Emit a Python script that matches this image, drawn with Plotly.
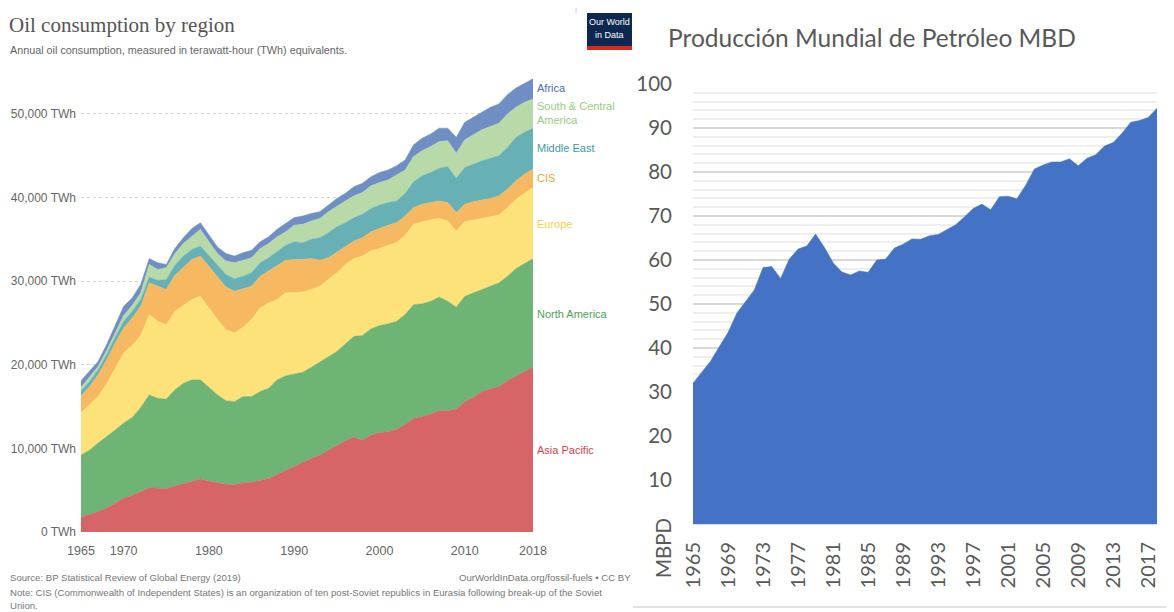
import plotly.graph_objects as go

W, H = 1174, 612
OFF = 8  # the page body adds 8px around the figure

years = list(range(1965, 2019))

# upper edge of each stacked band (TWh), bottom band first
top_asia_pacific = [1800, 2100, 2450, 2850, 3400, 4050, 4400, 4800, 5300, 5250,
                    5200, 5500, 5800, 6100, 6350, 6100, 5900, 5700, 5650, 5900,
                    5950, 6200, 6400, 6900, 7400, 7900, 8300, 8800, 9200, 9800,
                    10400, 10900, 11350, 11000, 11600, 11900, 12000, 12300, 12900, 13600,
                    13800, 14100, 14500, 14500, 14700, 15600, 16100, 16800, 17100, 17400,
                    18100, 18700, 19200, 19700]
top_north_america = [9220, 9800, 10650, 11400, 12200, 13050, 13700, 14900, 16400, 16000,
                     15900, 17000, 17800, 18200, 18200, 17300, 16400, 15700, 15600, 16200,
                     16200, 16800, 17200, 18200, 18700, 18900, 19100, 19700, 20300, 21000,
                     21600, 22500, 23400, 23500, 24300, 24700, 24900, 25200, 26000, 27200,
                     27300, 27600, 28100, 27600, 26900, 28200, 28600, 29000, 29400, 29800,
                     30600, 31500, 32100, 32700]
top_europe = [14250, 15200, 16200, 17700, 19600, 21400, 22300, 23500, 26000, 25200,
              24800, 26400, 27100, 27800, 28200, 26800, 25400, 24200, 23800, 24500,
              25400, 26800, 27400, 27800, 28600, 28600, 28700, 29000, 29400, 30200,
              31000, 32000, 32700, 33000, 33600, 33900, 34300, 34600, 35500, 36800,
              37100, 37300, 37500, 37200, 36000, 37100, 37300, 37500, 37700, 37900,
              38800, 39800, 40500, 41200]
top_cis = [16300, 17400, 18800, 20600, 22600, 24400, 25600, 27000, 29800, 29400,
           29000, 30700, 31700, 32600, 33000, 31800, 30500, 29300, 28800, 29100,
           29400, 30600, 31200, 31800, 32500, 32600, 32600, 32700, 32500, 32800,
           33500, 34200, 34800, 35200, 35900, 36300, 36700, 37000, 37800, 38800,
           39200, 39400, 39600, 39400, 38200, 39200, 39500, 39700, 39900, 40200,
           41000, 42000, 42800, 43400]
top_middle_east = [16900, 18000, 19400, 21200, 23300, 25200, 26400, 27800, 30500, 30100,
                   30200, 31900, 33000, 33800, 34200, 33100, 31900, 30800, 30300, 30600,
                   31000, 32200, 32800, 33600, 34300, 34700, 34600, 35000, 35200, 35800,
                   36500, 37000, 37600, 38000, 38700, 39100, 39400, 39600, 40500, 41900,
                   42600, 43000, 43500, 43700, 42300, 43600, 44000, 44400, 44700, 45000,
                   46000, 47200, 47800, 48300]
top_south_central_america = [17300, 18500, 19800, 21700, 23900, 25900, 27100, 28600, 32000, 31400,
                             31600, 33300, 34500, 35400, 36200, 34700, 33300, 32400, 32200, 32500,
                             32800, 33900, 34500, 35300, 35900, 36700, 36800, 37200, 37500, 38300,
                             39000, 39600, 40200, 40600, 41400, 41800, 42100, 42700, 43300, 44900,
                             45600, 46100, 46700, 46800, 45300, 46900, 47500, 48100, 48500, 48900,
                             50000, 50800, 51400, 51800]
top_africa = [18100, 19300, 20400, 22400, 24800, 27000, 28000, 29600, 32700, 32200,
              32000, 33900, 35200, 36300, 37000, 35500, 34100, 33300, 33000, 33400,
              33700, 34700, 35300, 36200, 36900, 37600, 37800, 38100, 38300, 39100,
              39900, 40500, 41300, 41700, 42500, 43000, 43300, 43800, 44500, 46300,
              47100, 47600, 48300, 48300, 47200, 49000, 49600, 50300, 50800, 51200,
              52300, 53100, 53700, 54200]

regions = ['Asia Pacific', 'North America', 'Europe', 'CIS', 'Middle East',
           'South & Central America', 'Africa']
tops = [top_asia_pacific, top_north_america, top_europe, top_cis, top_middle_east,
        top_south_central_america, top_africa]
fill_colors = ['#d76567', '#6db475', '#fde27a', '#f6b961', '#66b0b6', '#b8daa9', '#6f8ec3']
label_colors = ['#d8434b', '#4da45b', '#f5cf4d', '#f2a23a', '#3d9ca3', '#98cc84', '#4a6db3']

owid_ticks = [0, 10000, 20000, 30000, 40000, 50000]
owid_ticktext = ['0 TWh', '10,000 TWh', '20,000 TWh', '30,000 TWh', '40,000 TWh', '50,000 TWh']
owid_xticks = [1965, 1970, 1980, 1990, 2000, 2010, 2018]

# world oil production, million barrels per day
mbpd_years = list(range(1965, 2019))
mbpd = [32.0, 34.4, 37.0, 40.3, 43.5, 47.9, 50.5, 53.2, 58.3, 58.5,
        55.8, 60.2, 62.5, 63.2, 65.9, 62.9, 59.4, 57.3, 56.6, 57.5,
        57.2, 60.0, 60.2, 62.7, 63.6, 64.8, 64.7, 65.5, 65.8, 67.0,
        68.0, 69.8, 71.7, 72.7, 71.4, 74.4, 74.5, 73.9, 77.0, 80.7,
        81.6, 82.3, 82.3, 83.0, 81.4, 83.1, 83.9, 85.9, 86.7, 88.8,
        91.3, 91.7, 92.4, 94.5]
mbpd_xticks = list(range(1965, 2018, 4))
mbpd_yticks = list(range(10, 101, 10))


def px(x):
    return (x - OFF) / W


def py(y):
    return 1 - (y - OFF) / H


SANS = 'Liberation Sans Narrow, Arial Narrow, Liberation Sans, sans-serif'
SERIF = 'Liberation Serif, DejaVu Serif, serif'
XL = 'Lato, Carlito, Calibri, sans-serif'

fig = go.Figure()

below = [0] * len(years)
for name, top, col in zip(regions, tops, fill_colors):
    vals = [t - b for t, b in zip(top, below)]
    fig.add_trace(go.Scatter(x=years, y=vals, name=name, mode='lines',
                             stackgroup='owid', fillcolor=col,
                             line=dict(color=col, width=0.5),
                             xaxis='x', yaxis='y'))
    below = top

fig.add_trace(go.Scatter(x=mbpd_years, y=mbpd, name='MBPD', mode='lines',
                         fill='tozeroy', fillcolor='#4472c4',
                         line=dict(color='#4472c4', width=0.5),
                         xaxis='x2', yaxis='y2'))

fig.update_layout(
    width=W, height=H,
    margin=dict(l=0, r=0, t=0, b=0, pad=0),
    paper_bgcolor='white', plot_bgcolor='white',
    showlegend=False,
    xaxis=dict(domain=[px(81), px(533)], anchor='y', range=[1965, 2018],
               automargin=False,
               tickmode='array', tickvals=owid_xticks, ticklabelstandoff=9,
               tickfont=dict(family=SANS, size=12.5, color='#666'),
               showgrid=False, zeroline=False, showline=False, ticks=''),
    yaxis=dict(domain=[py(532), py(60)], anchor='x', range=[0, 56450],
               automargin=False,
               tickmode='array', tickvals=owid_ticks, ticktext=owid_ticktext,
               ticklabelstandoff=4,
               tickfont=dict(family=SANS, size=12, color='#666'),
               showgrid=True, gridcolor='#d6d6d6', griddash='dot', gridwidth=1,
               zeroline=False, showline=False, ticks=''),
    xaxis2=dict(domain=[px(693), px(1157)], anchor='y2', range=[1965, 2018],
                automargin=False,
                tickmode='array', tickvals=mbpd_xticks, tickangle=-90,
                ticklabelstandoff=9,
                tickfont=dict(family=XL, size=20, color='#595959'),
                showgrid=False, zeroline=False, showline=True,
                linecolor='#d9d9d9', linewidth=1, ticks=''),
    yaxis2=dict(domain=[py(524), py(84)], anchor='x2', range=[0, 100],
                automargin=False,
                tickmode='array', tickvals=mbpd_yticks, ticklabelstandoff=20,
                tickfont=dict(family=XL, size=20.5, color='#595959'),
                showgrid=True, gridcolor='#d9d9d9', gridwidth=1.5,
                minor=dict(tickmode='linear', tick0=0, dtick=2, showgrid=True,
                           gridcolor='#efefef', gridwidth=1.5),
                zeroline=False, showline=False, ticks=''),
)

# region labels at the right end of the stacked chart
label_y = [450, 314, 224, 178, 148, 113, 88]
label_txt = ['Asia Pacific', 'North America', 'Europe', 'CIS', 'Middle East',
             'South & Central<br>America', 'Africa']
for txt, ly, col in zip(label_txt, label_y, label_colors):
    fig.add_annotation(x=px(535), y=py(ly), xref='paper', yref='paper',
                       text=txt, showarrow=False, xanchor='left', yanchor='middle',
                       align='left', font=dict(family=SANS, size=11, color=col))

texts = [
    dict(x=7, y=25, text='Oil consumption by region', size=21, color='#555', fam=SERIF, anchor='left'),
    dict(x=8, y=50, text='Annual oil consumption, measured in terawatt-hour (TWh) equivalents.',
         size=10.8, color='#666', fam=SANS, anchor='left'),
    dict(x=8, y=577, text='Source: BP Statistical Review of Global Energy (2019)',
         size=9.6, color='#777', fam=SANS, anchor='left'),
    dict(x=633, y=577, text='OurWorldInData.org/fossil-fuels • CC BY',
         size=9.6, color='#777', fam=SANS, anchor='right'),
    dict(x=8, y=592, text='Note: CIS (Commonwealth of Independent States) is an organization of ten '
                          'post-Soviet republics in Eurasia following break-up of the Soviet',
         size=9.6, color='#777', fam=SANS, anchor='left'),
    dict(x=8, y=605, text='Union.', size=9.6, color='#777', fam=SANS, anchor='left'),
    dict(x=872, y=37, text='Producción Mundial de Petróleo MBD', size=24.5, color='#595959',
         fam=XL, anchor='center'),
    dict(x=609, y=22, text='Our World', size=9, color='white', fam=SANS, anchor='center'),
    dict(x=609, y=35, text='in Data', size=9, color='white', fam=SANS, anchor='center'),
]
for t in texts:
    fig.add_annotation(x=px(t['x']), y=py(t['y']), xref='paper', yref='paper',
                       text=t['text'], showarrow=False, xanchor=t['anchor'], yanchor='middle',
                       font=dict(family=t['fam'], size=t['size'], color=t['color']))

fig.add_annotation(x=px(663), y=py(548), xref='paper', yref='paper', text='MBPD',
                   textangle=-90, showarrow=False, xanchor='center', yanchor='middle',
                   font=dict(family=XL, size=20.5, color='#595959'))

# OWID logo and frame bits
fig.add_shape(type='rect', xref='paper', yref='paper', x0=px(587), x1=px(632),
              y0=py(46), y1=py(13), fillcolor='#0c2850', line=dict(width=0), layer='below')
fig.add_shape(type='rect', xref='paper', yref='paper', x0=px(587), x1=px(632),
              y0=py(50), y1=py(46), fillcolor='#d42b21', line=dict(width=0), layer='below')
fig.add_shape(type='line', xref='paper', yref='paper', x0=px(576), x1=px(576),
              y0=py(8), y1=py(13), line=dict(color='#cccccc', width=1))
fig.add_shape(type='line', xref='paper', yref='paper', x0=px(633), x1=px(1174),
              y0=py(607), y1=py(607), line=dict(color='#d9d9d9', width=1.5))

fig.write_html("out.html")
